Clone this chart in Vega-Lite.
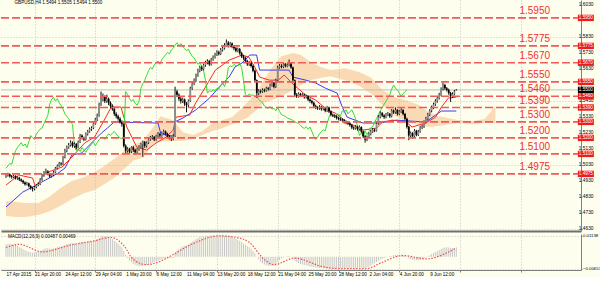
{
"$schema": "https://vega.github.io/schema/vega-lite/v6.json",
"background": "#FEFEEE",
"padding": 0,
"spacing": 2,
"config": {"view": {"stroke": null}, "font": "Liberation Sans", "axis": {"labelOverlap": false}},
"datasets": {
"bars": [
{"i":0,"o":1.4958,"h":1.4975,"l":1.4950,"c":1.4965,"m":0.0066,"ch":1.5010},
{"i":1,"o":1.4965,"h":1.4982,"l":1.4958,"c":1.4972,"m":0.0068,"ch":1.5025},
{"i":2,"o":1.4972,"h":1.4978,"l":1.4952,"c":1.4960,"m":0.0069,"ch":1.5040},
{"i":3,"o":1.4960,"h":1.4968,"l":1.4945,"c":1.4955,"m":0.0068,"ch":1.5035},
{"i":4,"o":1.4955,"h":1.4970,"l":1.4948,"c":1.4962,"m":0.0066,"ch":1.5080},
{"i":5,"o":1.4962,"h":1.4966,"l":1.4940,"c":1.4948,"m":0.0063,"ch":1.5120},
{"i":6,"o":1.4948,"h":1.4960,"l":1.4938,"c":1.4951,"m":0.0058,"ch":1.5140},
{"i":7,"o":1.4951,"h":1.4957,"l":1.4930,"c":1.4940,"m":0.0052,"ch":1.5155},
{"i":8,"o":1.4940,"h":1.4946,"l":1.4924,"c":1.4932,"m":0.0046,"ch":1.5170},
{"i":9,"o":1.4932,"h":1.4938,"l":1.4912,"c":1.4921,"m":0.0040,"ch":1.5150},
{"i":10,"o":1.4921,"h":1.4928,"l":1.4902,"c":1.4910,"m":0.0035,"ch":1.5162},
{"i":11,"o":1.4910,"h":1.4925,"l":1.4903,"c":1.4916,"m":0.0031,"ch":1.5140},
{"i":12,"o":1.4916,"h":1.4920,"l":1.4890,"c":1.4898,"m":0.0027,"ch":1.5175},
{"i":13,"o":1.4898,"h":1.4905,"l":1.4876,"c":1.4887,"m":0.0024,"ch":1.5215},
{"i":14,"o":1.4887,"h":1.4894,"l":1.4865,"c":1.4882,"m":0.0022,"ch":1.5200},
{"i":15,"o":1.4882,"h":1.4900,"l":1.4872,"c":1.4893,"m":0.0022,"ch":1.5190},
{"i":16,"o":1.4893,"h":1.4912,"l":1.4885,"c":1.4905,"m":0.0023,"ch":1.5225},
{"i":17,"o":1.4905,"h":1.4922,"l":1.4898,"c":1.4912,"m":0.0026,"ch":1.5240},
{"i":18,"o":1.4912,"h":1.4948,"l":1.4905,"c":1.4940,"m":0.0030,"ch":1.5255},
{"i":19,"o":1.4940,"h":1.4975,"l":1.4932,"c":1.4965,"m":0.0036,"ch":1.5262},
{"i":20,"o":1.4965,"h":1.4992,"l":1.4958,"c":1.4982,"m":0.0042,"ch":1.5290},
{"i":21,"o":1.4982,"h":1.5008,"l":1.4975,"c":1.4990,"m":0.0045,"ch":1.5315},
{"i":22,"o":1.4990,"h":1.4998,"l":1.4966,"c":1.4975,"m":0.0045,"ch":1.5340},
{"i":23,"o":1.4975,"h":1.4982,"l":1.4950,"c":1.4960,"m":0.0043,"ch":1.5410},
{"i":24,"o":1.4960,"h":1.4976,"l":1.4952,"c":1.4968,"m":0.0043,"ch":1.5440},
{"i":25,"o":1.4968,"h":1.4994,"l":1.4960,"c":1.4985,"m":0.0045,"ch":1.5455},
{"i":26,"o":1.4985,"h":1.5018,"l":1.4978,"c":1.5010,"m":0.0048,"ch":1.5430},
{"i":27,"o":1.5010,"h":1.5034,"l":1.5002,"c":1.5025,"m":0.0051,"ch":1.5445},
{"i":28,"o":1.5025,"h":1.5050,"l":1.5018,"c":1.5040,"m":0.0054,"ch":1.5420},
{"i":29,"o":1.5040,"h":1.5048,"l":1.5026,"c":1.5035,"m":0.0055,"ch":1.5400},
{"i":30,"o":1.5035,"h":1.5088,"l":1.5030,"c":1.5080,"m":0.0058,"ch":1.5380},
{"i":31,"o":1.5080,"h":1.5132,"l":1.5072,"c":1.5120,"m":0.0063,"ch":1.5350},
{"i":32,"o":1.5120,"h":1.5152,"l":1.5110,"c":1.5140,"m":0.0067,"ch":1.5335},
{"i":33,"o":1.5140,"h":1.5168,"l":1.5132,"c":1.5155,"m":0.0070,"ch":1.5320},
{"i":34,"o":1.5155,"h":1.5185,"l":1.5146,"c":1.5170,"m":0.0073,"ch":1.5300},
{"i":35,"o":1.5170,"h":1.5178,"l":1.5140,"c":1.5150,"m":0.0072,"ch":1.5285},
{"i":36,"o":1.5150,"h":1.5172,"l":1.5138,"c":1.5162,"m":0.0072,"ch":1.5150},
{"i":37,"o":1.5162,"h":1.5168,"l":1.5128,"c":1.5140,"m":0.0070,"ch":1.5120},
{"i":38,"o":1.5140,"h":1.5184,"l":1.5134,"c":1.5175,"m":0.0072,"ch":1.5130},
{"i":39,"o":1.5175,"h":1.5225,"l":1.5168,"c":1.5215,"m":0.0076,"ch":1.5115},
{"i":40,"o":1.5215,"h":1.5222,"l":1.5190,"c":1.5200,"m":0.0077,"ch":1.5140},
{"i":41,"o":1.5200,"h":1.5208,"l":1.5180,"c":1.5190,"m":0.0076,"ch":1.5125},
{"i":42,"o":1.5190,"h":1.5234,"l":1.5184,"c":1.5225,"m":0.0078,"ch":1.5110},
{"i":43,"o":1.5225,"h":1.5250,"l":1.5215,"c":1.5240,"m":0.0080,"ch":1.5130},
{"i":44,"o":1.5240,"h":1.5266,"l":1.5232,"c":1.5255,"m":0.0082,"ch":1.5145},
{"i":45,"o":1.5255,"h":1.5272,"l":1.5244,"c":1.5262,"m":0.0083,"ch":1.5160},
{"i":46,"o":1.5262,"h":1.5298,"l":1.5255,"c":1.5290,"m":0.0086,"ch":1.5175},
{"i":47,"o":1.5290,"h":1.5325,"l":1.5282,"c":1.5315,"m":0.0090,"ch":1.5150},
{"i":48,"o":1.5315,"h":1.5352,"l":1.5305,"c":1.5340,"m":0.0094,"ch":1.5170},
{"i":49,"o":1.5340,"h":1.5420,"l":1.5332,"c":1.5410,"m":0.0101,"ch":1.5190},
{"i":50,"o":1.5410,"h":1.5490,"l":1.5400,"c":1.5440,"m":0.0107,"ch":1.5200},
{"i":51,"o":1.5440,"h":1.5478,"l":1.5428,"c":1.5455,"m":0.0111,"ch":1.5205},
{"i":52,"o":1.5455,"h":1.5465,"l":1.5418,"c":1.5430,"m":0.0110,"ch":1.5190},
{"i":53,"o":1.5430,"h":1.5470,"l":1.5420,"c":1.5445,"m":0.0109,"ch":1.5210},
{"i":54,"o":1.5445,"h":1.5452,"l":1.5405,"c":1.5420,"m":0.0105,"ch":1.5225},
{"i":55,"o":1.5420,"h":1.5428,"l":1.5388,"c":1.5400,"m":0.0100,"ch":1.5215},
{"i":56,"o":1.5400,"h":1.5410,"l":1.5370,"c":1.5380,"m":0.0094,"ch":1.5230},
{"i":57,"o":1.5380,"h":1.5388,"l":1.5338,"c":1.5350,"m":0.0086,"ch":1.5240},
{"i":58,"o":1.5350,"h":1.5360,"l":1.5322,"c":1.5335,"m":0.0078,"ch":1.5225},
{"i":59,"o":1.5335,"h":1.5345,"l":1.5308,"c":1.5320,"m":0.0069,"ch":1.5210},
{"i":60,"o":1.5320,"h":1.5330,"l":1.5290,"c":1.5300,"m":0.0060,"ch":1.5200},
{"i":61,"o":1.5300,"h":1.5310,"l":1.5270,"c":1.5285,"m":0.0051,"ch":1.5195},
{"i":62,"o":1.5285,"h":1.5292,"l":1.5140,"c":1.5150,"m":0.0030,"ch":1.5210},
{"i":63,"o":1.5150,"h":1.5160,"l":1.5105,"c":1.5120,"m":0.0010,"ch":1.5490},
{"i":64,"o":1.5120,"h":1.5142,"l":1.5108,"c":1.5130,"m":-0.0008,"ch":1.5470},
{"i":65,"o":1.5130,"h":1.5138,"l":1.5100,"c":1.5115,"m":-0.0020,"ch":1.5445},
{"i":66,"o":1.5115,"h":1.5148,"l":1.5105,"c":1.5140,"m":-0.0030,"ch":1.5430},
{"i":67,"o":1.5140,"h":1.5150,"l":1.5112,"c":1.5125,"m":-0.0038,"ch":1.5440},
{"i":68,"o":1.5125,"h":1.5132,"l":1.5095,"c":1.5110,"m":-0.0044,"ch":1.5415},
{"i":69,"o":1.5110,"h":1.5138,"l":1.5102,"c":1.5130,"m":-0.0048,"ch":1.5405},
{"i":70,"o":1.5130,"h":1.5155,"l":1.5120,"c":1.5145,"m":-0.0050,"ch":1.5430},
{"i":71,"o":1.5145,"h":1.5170,"l":1.5136,"c":1.5160,"m":-0.0050,"ch":1.5510},
{"i":72,"o":1.5160,"h":1.5182,"l":1.5082,"c":1.5175,"m":-0.0049,"ch":1.5540},
{"i":73,"o":1.5175,"h":1.5180,"l":1.5138,"c":1.5150,"m":-0.0047,"ch":1.5560},
{"i":74,"o":1.5150,"h":1.5178,"l":1.5140,"c":1.5170,"m":-0.0045,"ch":1.5590},
{"i":75,"o":1.5170,"h":1.5200,"l":1.5162,"c":1.5190,"m":-0.0042,"ch":1.5620},
{"i":76,"o":1.5190,"h":1.5212,"l":1.5182,"c":1.5200,"m":-0.0038,"ch":1.5640},
{"i":77,"o":1.5200,"h":1.5218,"l":1.5190,"c":1.5205,"m":-0.0034,"ch":1.5630},
{"i":78,"o":1.5205,"h":1.5212,"l":1.5180,"c":1.5190,"m":-0.0030,"ch":1.5655},
{"i":79,"o":1.5190,"h":1.5220,"l":1.5182,"c":1.5210,"m":-0.0026,"ch":1.5670},
{"i":80,"o":1.5210,"h":1.5236,"l":1.5200,"c":1.5225,"m":-0.0022,"ch":1.5680},
{"i":81,"o":1.5225,"h":1.5232,"l":1.5205,"c":1.5215,"m":-0.0018,"ch":1.5660},
{"i":82,"o":1.5215,"h":1.5240,"l":1.5208,"c":1.5230,"m":-0.0014,"ch":1.5690},
{"i":83,"o":1.5230,"h":1.5252,"l":1.5222,"c":1.5240,"m":-0.0010,"ch":1.5705},
{"i":84,"o":1.5240,"h":1.5246,"l":1.5215,"c":1.5225,"m":-0.0008,"ch":1.5720},
{"i":85,"o":1.5225,"h":1.5232,"l":1.5200,"c":1.5210,"m":-0.0007,"ch":1.5735},
{"i":86,"o":1.5210,"h":1.5218,"l":1.5190,"c":1.5200,"m":-0.0007,"ch":1.5725},
{"i":87,"o":1.5200,"h":1.5208,"l":1.5180,"c":1.5195,"m":-0.0008,"ch":1.5750},
{"i":88,"o":1.5195,"h":1.5222,"l":1.5185,"c":1.5210,"m":-0.0008,"ch":1.5760},
{"i":89,"o":1.5210,"h":1.5520,"l":1.5205,"c":1.5490,"m":0.0015,"ch":1.5780},
{"i":90,"o":1.5490,"h":1.5500,"l":1.5455,"c":1.5470,"m":0.0032,"ch":1.5795},
{"i":91,"o":1.5470,"h":1.5478,"l":1.5432,"c":1.5445,"m":0.0041,"ch":1.5775},
{"i":92,"o":1.5445,"h":1.5455,"l":1.5415,"c":1.5430,"m":0.0049,"ch":1.5790},
{"i":93,"o":1.5430,"h":1.5452,"l":1.5418,"c":1.5440,"m":0.0056,"ch":1.5770},
{"i":94,"o":1.5440,"h":1.5446,"l":1.5400,"c":1.5415,"m":0.0059,"ch":1.5760},
{"i":95,"o":1.5415,"h":1.5425,"l":1.5360,"c":1.5405,"m":0.0061,"ch":1.5745},
{"i":96,"o":1.5405,"h":1.5440,"l":1.5390,"c":1.5430,"m":0.0065,"ch":1.5755},
{"i":97,"o":1.5430,"h":1.5520,"l":1.5425,"c":1.5510,"m":0.0073,"ch":1.5730},
{"i":98,"o":1.5510,"h":1.5552,"l":1.5500,"c":1.5540,"m":0.0080,"ch":1.5710},
{"i":99,"o":1.5540,"h":1.5572,"l":1.5530,"c":1.5560,"m":0.0087,"ch":1.5700},
{"i":100,"o":1.5560,"h":1.5602,"l":1.5550,"c":1.5590,"m":0.0094,"ch":1.5680},
{"i":101,"o":1.5590,"h":1.5632,"l":1.5582,"c":1.5620,"m":0.0100,"ch":1.5660},
{"i":102,"o":1.5620,"h":1.5652,"l":1.5610,"c":1.5640,"m":0.0104,"ch":1.5670},
{"i":103,"o":1.5640,"h":1.5650,"l":1.5618,"c":1.5630,"m":0.0107,"ch":1.5650},
{"i":104,"o":1.5630,"h":1.5665,"l":1.5622,"c":1.5655,"m":0.0110,"ch":1.5620},
{"i":105,"o":1.5655,"h":1.5682,"l":1.5645,"c":1.5670,"m":0.0112,"ch":1.5560},
{"i":106,"o":1.5670,"h":1.5692,"l":1.5660,"c":1.5680,"m":0.0113,"ch":1.5480},
{"i":107,"o":1.5680,"h":1.5688,"l":1.5650,"c":1.5660,"m":0.0112,"ch":1.5495},
{"i":108,"o":1.5660,"h":1.5700,"l":1.5652,"c":1.5690,"m":0.0113,"ch":1.5490},
{"i":109,"o":1.5690,"h":1.5716,"l":1.5682,"c":1.5705,"m":0.0113,"ch":1.5500},
{"i":110,"o":1.5705,"h":1.5732,"l":1.5696,"c":1.5720,"m":0.0113,"ch":1.5495},
{"i":111,"o":1.5720,"h":1.5748,"l":1.5712,"c":1.5735,"m":0.0114,"ch":1.5510},
{"i":112,"o":1.5735,"h":1.5745,"l":1.5715,"c":1.5725,"m":0.0113,"ch":1.5505},
{"i":113,"o":1.5725,"h":1.5762,"l":1.5718,"c":1.5750,"m":0.0113,"ch":1.5530},
{"i":114,"o":1.5750,"h":1.5772,"l":1.5740,"c":1.5760,"m":0.0112,"ch":1.5545},
{"i":115,"o":1.5760,"h":1.5792,"l":1.5752,"c":1.5780,"m":0.0113,"ch":1.5520},
{"i":116,"o":1.5780,"h":1.5815,"l":1.5772,"c":1.5795,"m":0.0114,"ch":1.5560},
{"i":117,"o":1.5795,"h":1.5805,"l":1.5765,"c":1.5775,"m":0.0111,"ch":1.5640},
{"i":118,"o":1.5775,"h":1.5800,"l":1.5766,"c":1.5790,"m":0.0109,"ch":1.5650},
{"i":119,"o":1.5790,"h":1.5796,"l":1.5760,"c":1.5770,"m":0.0105,"ch":1.5645},
{"i":120,"o":1.5770,"h":1.5780,"l":1.5748,"c":1.5760,"m":0.0101,"ch":1.5660},
{"i":121,"o":1.5760,"h":1.5768,"l":1.5735,"c":1.5745,"m":0.0096,"ch":1.5650},
{"i":122,"o":1.5745,"h":1.5765,"l":1.5736,"c":1.5755,"m":0.0091,"ch":1.5655},
{"i":123,"o":1.5755,"h":1.5762,"l":1.5720,"c":1.5730,"m":0.0085,"ch":1.5665},
{"i":124,"o":1.5730,"h":1.5738,"l":1.5700,"c":1.5710,"m":0.0078,"ch":1.5640},
{"i":125,"o":1.5710,"h":1.5720,"l":1.5688,"c":1.5700,"m":0.0071,"ch":1.5560},
{"i":126,"o":1.5700,"h":1.5708,"l":1.5670,"c":1.5680,"m":0.0064,"ch":1.5470},
{"i":127,"o":1.5680,"h":1.5688,"l":1.5650,"c":1.5660,"m":0.0056,"ch":1.5460},
{"i":128,"o":1.5660,"h":1.5680,"l":1.5650,"c":1.5670,"m":0.0050,"ch":1.5475},
{"i":129,"o":1.5670,"h":1.5678,"l":1.5640,"c":1.5650,"m":0.0043,"ch":1.5465},
{"i":130,"o":1.5650,"h":1.5658,"l":1.5610,"c":1.5620,"m":0.0030,"ch":1.5470},
{"i":131,"o":1.5620,"h":1.5628,"l":1.5550,"c":1.5560,"m":0.0018,"ch":1.5455},
{"i":132,"o":1.5560,"h":1.5565,"l":1.5450,"c":1.5480,"m":0.0000,"ch":1.5460},
{"i":133,"o":1.5480,"h":1.5505,"l":1.5468,"c":1.5495,"m":-0.0015,"ch":1.5440},
{"i":134,"o":1.5495,"h":1.5502,"l":1.5478,"c":1.5490,"m":-0.0027,"ch":1.5430},
{"i":135,"o":1.5490,"h":1.5510,"l":1.5482,"c":1.5500,"m":-0.0036,"ch":1.5420},
{"i":136,"o":1.5500,"h":1.5508,"l":1.5485,"c":1.5495,"m":-0.0042,"ch":1.5400},
{"i":137,"o":1.5495,"h":1.5520,"l":1.5488,"c":1.5510,"m":-0.0046,"ch":1.5390},
{"i":138,"o":1.5510,"h":1.5518,"l":1.5495,"c":1.5505,"m":-0.0049,"ch":1.5385},
{"i":139,"o":1.5505,"h":1.5540,"l":1.5498,"c":1.5530,"m":-0.0050,"ch":1.5395},
{"i":140,"o":1.5530,"h":1.5556,"l":1.5520,"c":1.5545,"m":-0.0049,"ch":1.5380},
{"i":141,"o":1.5545,"h":1.5550,"l":1.5510,"c":1.5520,"m":-0.0046,"ch":1.5385},
{"i":142,"o":1.5520,"h":1.5570,"l":1.5512,"c":1.5560,"m":-0.0040,"ch":1.5370},
{"i":143,"o":1.5560,"h":1.5652,"l":1.5555,"c":1.5640,"m":-0.0028,"ch":1.5390},
{"i":144,"o":1.5640,"h":1.5662,"l":1.5632,"c":1.5650,"m":-0.0018,"ch":1.5365},
{"i":145,"o":1.5650,"h":1.5660,"l":1.5635,"c":1.5645,"m":-0.0010,"ch":1.5345},
{"i":146,"o":1.5645,"h":1.5672,"l":1.5636,"c":1.5660,"m":-0.0004,"ch":1.5340},
{"i":147,"o":1.5660,"h":1.5668,"l":1.5640,"c":1.5650,"m":0.0000,"ch":1.5335},
{"i":148,"o":1.5650,"h":1.5666,"l":1.5642,"c":1.5655,"m":0.0002,"ch":1.5325},
{"i":149,"o":1.5655,"h":1.5690,"l":1.5648,"c":1.5665,"m":0.0003,"ch":1.5320},
{"i":150,"o":1.5665,"h":1.5672,"l":1.5632,"c":1.5640,"m":0.0000,"ch":1.5315},
{"i":151,"o":1.5640,"h":1.5646,"l":1.5550,"c":1.5560,"m":-0.0010,"ch":1.5310},
{"i":152,"o":1.5560,"h":1.5565,"l":1.5455,"c":1.5470,"m":-0.0022,"ch":1.5300},
{"i":153,"o":1.5470,"h":1.5480,"l":1.5450,"c":1.5460,"m":-0.0030,"ch":1.5295},
{"i":154,"o":1.5460,"h":1.5485,"l":1.5452,"c":1.5475,"m":-0.0035,"ch":1.5290},
{"i":155,"o":1.5475,"h":1.5482,"l":1.5455,"c":1.5465,"m":-0.0039,"ch":1.5280},
{"i":156,"o":1.5465,"h":1.5480,"l":1.5456,"c":1.5470,"m":-0.0042,"ch":1.5265},
{"i":157,"o":1.5470,"h":1.5476,"l":1.5445,"c":1.5455,"m":-0.0045,"ch":1.5260},
{"i":158,"o":1.5455,"h":1.5470,"l":1.5446,"c":1.5460,"m":-0.0048,"ch":1.5270},
{"i":159,"o":1.5460,"h":1.5466,"l":1.5430,"c":1.5440,"m":-0.0051,"ch":1.5255},
{"i":160,"o":1.5440,"h":1.5448,"l":1.5420,"c":1.5430,"m":-0.0053,"ch":1.5268},
{"i":161,"o":1.5430,"h":1.5438,"l":1.5410,"c":1.5420,"m":-0.0055,"ch":1.5240},
{"i":162,"o":1.5420,"h":1.5426,"l":1.5390,"c":1.5400,"m":-0.0057,"ch":1.5210},
{"i":163,"o":1.5400,"h":1.5408,"l":1.5380,"c":1.5390,"m":-0.0059,"ch":1.5190},
{"i":164,"o":1.5390,"h":1.5398,"l":1.5375,"c":1.5385,"m":-0.0060,"ch":1.5205},
{"i":165,"o":1.5385,"h":1.5405,"l":1.5376,"c":1.5395,"m":-0.0061,"ch":1.5225},
{"i":166,"o":1.5395,"h":1.5400,"l":1.5370,"c":1.5380,"m":-0.0062,"ch":1.5240},
{"i":167,"o":1.5380,"h":1.5395,"l":1.5372,"c":1.5385,"m":-0.0063,"ch":1.5250},
{"i":168,"o":1.5385,"h":1.5390,"l":1.5360,"c":1.5370,"m":-0.0063,"ch":1.5245},
{"i":169,"o":1.5370,"h":1.5400,"l":1.5362,"c":1.5390,"m":-0.0064,"ch":1.5290},
{"i":170,"o":1.5390,"h":1.5395,"l":1.5355,"c":1.5365,"m":-0.0064,"ch":1.5330},
{"i":171,"o":1.5365,"h":1.5372,"l":1.5335,"c":1.5345,"m":-0.0065,"ch":1.5355},
{"i":172,"o":1.5345,"h":1.5352,"l":1.5330,"c":1.5340,"m":-0.0065,"ch":1.5340},
{"i":173,"o":1.5340,"h":1.5348,"l":1.5325,"c":1.5335,"m":-0.0065,"ch":1.5330},
{"i":174,"o":1.5335,"h":1.5342,"l":1.5315,"c":1.5325,"m":-0.0064,"ch":1.5345},
{"i":175,"o":1.5325,"h":1.5332,"l":1.5310,"c":1.5320,"m":-0.0064,"ch":1.5350},
{"i":176,"o":1.5320,"h":1.5328,"l":1.5305,"c":1.5315,"m":-0.0063,"ch":1.5335},
{"i":177,"o":1.5315,"h":1.5322,"l":1.5300,"c":1.5310,"m":-0.0063,"ch":1.5370},
{"i":178,"o":1.5310,"h":1.5318,"l":1.5290,"c":1.5300,"m":-0.0062,"ch":1.5360},
{"i":179,"o":1.5300,"h":1.5308,"l":1.5285,"c":1.5295,"m":-0.0062,"ch":1.5375},
{"i":180,"o":1.5295,"h":1.5302,"l":1.5280,"c":1.5290,"m":-0.0062,"ch":1.5350},
{"i":181,"o":1.5290,"h":1.5298,"l":1.5270,"c":1.5280,"m":-0.0062,"ch":1.5365},
{"i":182,"o":1.5280,"h":1.5286,"l":1.5255,"c":1.5265,"m":-0.0063,"ch":1.5375},
{"i":183,"o":1.5265,"h":1.5272,"l":1.5250,"c":1.5260,"m":-0.0063,"ch":1.5350},
{"i":184,"o":1.5260,"h":1.5280,"l":1.5252,"c":1.5270,"m":-0.0062,"ch":1.5320},
{"i":185,"o":1.5270,"h":1.5276,"l":1.5245,"c":1.5255,"m":-0.0061,"ch":1.5270},
{"i":186,"o":1.5255,"h":1.5278,"l":1.5246,"c":1.5268,"m":-0.0060,"ch":1.5215},
{"i":187,"o":1.5268,"h":1.5272,"l":1.5230,"c":1.5240,"m":-0.0060,"ch":1.5230},
{"i":188,"o":1.5240,"h":1.5246,"l":1.5198,"c":1.5210,"m":-0.0061,"ch":1.5210},
{"i":189,"o":1.5210,"h":1.5218,"l":1.5170,"c":1.5190,"m":-0.0062,"ch":1.5245},
{"i":190,"o":1.5190,"h":1.5215,"l":1.5180,"c":1.5205,"m":-0.0059,"ch":1.5220},
{"i":191,"o":1.5205,"h":1.5235,"l":1.5198,"c":1.5225,"m":-0.0054,"ch":1.5240},
{"i":192,"o":1.5225,"h":1.5250,"l":1.5216,"c":1.5240,"m":-0.0048,"ch":1.5265},
{"i":193,"o":1.5240,"h":1.5262,"l":1.5232,"c":1.5250,"m":-0.0042,"ch":1.5270},
{"i":194,"o":1.5250,"h":1.5258,"l":1.5236,"c":1.5245,"m":-0.0036,"ch":1.5300},
{"i":195,"o":1.5245,"h":1.5300,"l":1.5240,"c":1.5290,"m":-0.0029,"ch":1.5320},
{"i":196,"o":1.5290,"h":1.5342,"l":1.5282,"c":1.5330,"m":-0.0022,"ch":1.5345},
{"i":197,"o":1.5330,"h":1.5366,"l":1.5322,"c":1.5355,"m":-0.0016,"ch":1.5370},
{"i":198,"o":1.5355,"h":1.5362,"l":1.5330,"c":1.5340,"m":-0.0011,"ch":1.5390},
{"i":199,"o":1.5340,"h":1.5348,"l":1.5318,"c":1.5330,"m":-0.0007,"ch":1.5410},
{"i":200,"o":1.5330,"h":1.5356,"l":1.5322,"c":1.5345,"m":-0.0003,"ch":1.5430},
{"i":201,"o":1.5345,"h":1.5362,"l":1.5336,"c":1.5350,"m":0.0000,"ch":1.5450},
{"i":202,"o":1.5350,"h":1.5356,"l":1.5325,"c":1.5335,"m":0.0003,"ch":1.5470},
{"i":203,"o":1.5335,"h":1.5380,"l":1.5328,"c":1.5370,"m":0.0005,"ch":1.5505},
{"i":204,"o":1.5370,"h":1.5378,"l":1.5350,"c":1.5360,"m":0.0007,"ch":1.5530},
{"i":205,"o":1.5360,"h":1.5390,"l":1.5352,"c":1.5375,"m":0.0009,"ch":1.5510},
{"i":206,"o":1.5375,"h":1.5380,"l":1.5340,"c":1.5350,"m":0.0010,"ch":1.5500},
{"i":207,"o":1.5350,"h":1.5375,"l":1.5342,"c":1.5365,"m":0.0010,"ch":1.5480},
{"i":208,"o":1.5365,"h":1.5386,"l":1.5356,"c":1.5375,"m":0.0010,"ch":1.5460},
{"i":209,"o":1.5375,"h":1.5380,"l":1.5340,"c":1.5350,"m":0.0008,"ch":1.5475},
{"i":210,"o":1.5350,"h":1.5356,"l":1.5310,"c":1.5320,"m":0.0004,"ch":1.5490},
{"i":211,"o":1.5320,"h":1.5326,"l":1.5258,"c":1.5270,"m":-0.0003,"ch":1.5500},
{"i":212,"o":1.5270,"h":1.5276,"l":1.5185,"c":1.5215,"m":-0.0010},
{"i":213,"o":1.5215,"h":1.5240,"l":1.5205,"c":1.5230,"m":-0.0015},
{"i":214,"o":1.5230,"h":1.5236,"l":1.5195,"c":1.5210,"m":-0.0018},
{"i":215,"o":1.5210,"h":1.5255,"l":1.5202,"c":1.5245,"m":-0.0019},
{"i":216,"o":1.5245,"h":1.5250,"l":1.5210,"c":1.5220,"m":-0.0020},
{"i":217,"o":1.5220,"h":1.5250,"l":1.5212,"c":1.5240,"m":-0.0019},
{"i":218,"o":1.5240,"h":1.5275,"l":1.5232,"c":1.5265,"m":-0.0017},
{"i":219,"o":1.5265,"h":1.5282,"l":1.5255,"c":1.5270,"m":-0.0014},
{"i":220,"o":1.5270,"h":1.5310,"l":1.5262,"c":1.5300,"m":-0.0009},
{"i":221,"o":1.5300,"h":1.5332,"l":1.5290,"c":1.5320,"m":-0.0004},
{"i":222,"o":1.5320,"h":1.5356,"l":1.5312,"c":1.5345,"m":0.0002},
{"i":223,"o":1.5345,"h":1.5380,"l":1.5336,"c":1.5370,"m":0.0008},
{"i":224,"o":1.5370,"h":1.5402,"l":1.5360,"c":1.5390,"m":0.0014},
{"i":225,"o":1.5390,"h":1.5420,"l":1.5380,"c":1.5410,"m":0.0020},
{"i":226,"o":1.5410,"h":1.5442,"l":1.5400,"c":1.5430,"m":0.0026},
{"i":227,"o":1.5430,"h":1.5462,"l":1.5420,"c":1.5450,"m":0.0031},
{"i":228,"o":1.5450,"h":1.5482,"l":1.5440,"c":1.5470,"m":0.0036},
{"i":229,"o":1.5470,"h":1.5516,"l":1.5462,"c":1.5505,"m":0.0041},
{"i":230,"o":1.5505,"h":1.5545,"l":1.5496,"c":1.5530,"m":0.0046},
{"i":231,"o":1.5530,"h":1.5538,"l":1.5500,"c":1.5510,"m":0.0049},
{"i":232,"o":1.5510,"h":1.5518,"l":1.5490,"c":1.5500,"m":0.0050},
{"i":233,"o":1.5500,"h":1.5508,"l":1.5470,"c":1.5480,"m":0.0049},
{"i":234,"o":1.5480,"h":1.5488,"l":1.5425,"c":1.5460,"m":0.0047},
{"i":235,"o":1.5460,"h":1.5485,"l":1.5450,"c":1.5475,"m":0.0046},
{"i":236,"o":1.5475,"h":1.5500,"l":1.5466,"c":1.5490,"m":0.0047},
{"i":237,"o":1.5494,"h":1.5505,"l":1.5494,"c":1.5500,"m":0.0049}
],
"tk": [
{"i":0,"v":1.4905},{"i":6.7,"v":1.4968},{"i":14,"v":1.4949},{"i":15.5,"v":1.4893},{"i":20.7,"v":1.4980},{"i":29.5,"v":1.5018},{"i":34.7,"v":1.5080},{"i":41.4,"v":1.5168},{"i":46.6,"v":1.5205},{"i":51.7,"v":1.5311},{"i":55.4,"v":1.5393},{"i":60.5,"v":1.5393},{"i":62,"v":1.5330},{"i":63.6,"v":1.5268},{"i":68.8,"v":1.5143},{"i":74,"v":1.5124},{"i":79,"v":1.5168},{"i":84.3,"v":1.5205},{"i":88,"v":1.5249},{"i":89.5,"v":1.5330},{"i":96.7,"v":1.5343},{"i":99.8,"v":1.5418},{"i":105,"v":1.5518},{"i":110.2,"v":1.5624},{"i":117.4,"v":1.5686},{"i":124.2,"v":1.5718},{"i":127.8,"v":1.5705},{"i":130.9,"v":1.5643},{"i":133.5,"v":1.5580},{"i":138.6,"v":1.5561},{"i":143.3,"v":1.5561},{"i":146.4,"v":1.5593},{"i":151.6,"v":1.5530},{"i":157.8,"v":1.5468},{"i":163,"v":1.5436},{"i":169.2,"v":1.5374},{"i":173.3,"v":1.5355},{"i":179.5,"v":1.5299},{"i":187.8,"v":1.5249},{"i":195,"v":1.5261},{"i":198.1,"v":1.5299},{"i":203.3,"v":1.5311},{"i":210.6,"v":1.5299},{"i":213.7,"v":1.5268},{"i":220.9,"v":1.5293},{"i":226.1,"v":1.5330},{"i":229.2,"v":1.5393},{"i":232.8,"v":1.5449},{"i":237,"v":1.5455}
],
"kj": [
{"i":0,"v":1.4768},{"i":8.8,"v":1.4861},{"i":14,"v":1.4893},{"i":20.7,"v":1.4936},{"i":27.4,"v":1.4980},{"i":31,"v":1.5011},{"i":34.7,"v":1.5093},{"i":39.8,"v":1.5105},{"i":45,"v":1.5168},{"i":50.2,"v":1.5230},{"i":53.3,"v":1.5261},{"i":56.9,"v":1.5299},{"i":80,"v":1.5293},{"i":81.5,"v":1.5225},{"i":88.3,"v":1.5210},{"i":89,"v":1.5301},{"i":93.1,"v":1.5324},{"i":99.8,"v":1.5374},{"i":107.1,"v":1.5449},{"i":112.3,"v":1.5518},{"i":117.4,"v":1.5580},{"i":120.5,"v":1.5643},{"i":124.2,"v":1.5668},{"i":128.3,"v":1.5718},{"i":131.9,"v":1.5718},{"i":133.5,"v":1.5624},{"i":149,"v":1.5624},{"i":151,"v":1.5580},{"i":157.8,"v":1.5561},{"i":163,"v":1.5543},{"i":168.1,"v":1.5511},{"i":174.3,"v":1.5480},{"i":177,"v":1.5393},{"i":179.5,"v":1.5330},{"i":187.8,"v":1.5293},{"i":196.6,"v":1.5293},{"i":205.4,"v":1.5311},{"i":220.9,"v":1.5299},{"i":226.1,"v":1.5343},{"i":229.2,"v":1.5368},{"i":237,"v":1.5368}
],
"cloud": [
{"i":0,"a":1.4805,"b":1.4711},{"i":5.2,"a":1.4799,"b":1.4705},{"i":10.3,"a":1.4793,"b":1.4705},{"i":17.1,"a":1.4793,"b":1.4718},{"i":23.3,"a":1.4836,"b":1.4743},{"i":28.5,"a":1.4886,"b":1.4774},{"i":34.7,"a":1.4930,"b":1.4818},{"i":41.4,"a":1.4955,"b":1.4855},{"i":46.6,"a":1.4986,"b":1.4874},{"i":51.7,"a":1.5024,"b":1.4911},{"i":56.9,"a":1.5068,"b":1.4949},{"i":62.1,"a":1.5118,"b":1.5005},{"i":67.3,"a":1.5155,"b":1.5061},{"i":72.4,"a":1.5187,"b":1.5078},{"i":77.6,"a":1.5270,"b":1.5165},{"i":81.2,"a":1.5336,"b":1.5178},{"i":87.9,"a":1.5310,"b":1.5180},{"i":93.1,"a":1.5236,"b":1.5182},{"i":98.3,"a":1.5218,"b":1.5193},{"i":103.5,"a":1.5243,"b":1.5218},{"i":108.6,"a":1.5293,"b":1.5243},{"i":113.8,"a":1.5311,"b":1.5261},{"i":119,"a":1.5330,"b":1.5286},{"i":124.2,"a":1.5386,"b":1.5311},{"i":126.7,"a":1.5418,"b":1.5324},{"i":131.9,"a":1.5480,"b":1.5374},{"i":135.5,"a":1.5561,"b":1.5418},{"i":139.7,"a":1.5636,"b":1.5436},{"i":144.9,"a":1.5711,"b":1.5461},{"i":151.1,"a":1.5730,"b":1.5499},{"i":155.2,"a":1.5718,"b":1.5530},{"i":160.4,"a":1.5674,"b":1.5561},{"i":165.5,"a":1.5643,"b":1.5574},{"i":170.7,"a":1.5624,"b":1.5586},{"i":178.5,"a":1.5636,"b":1.5561},{"i":186.2,"a":1.5611,"b":1.5524},{"i":192.4,"a":1.5574,"b":1.5474},{"i":198.1,"a":1.5499,"b":1.5405},{"i":204.3,"a":1.5455,"b":1.5343},{"i":210.6,"a":1.5436,"b":1.5299},{"i":217.3,"a":1.5405,"b":1.5280},{"i":222.5,"a":1.5361,"b":1.5268},{"i":227.6,"a":1.5336,"b":1.5274},{"i":232.8,"a":1.5324,"b":1.5286},{"i":238,"a":1.5311,"b":1.5293},{"i":245.7,"a":1.5305,"b":1.5286},{"i":251.9,"a":1.5318,"b":1.5293},{"i":257.6,"a":1.5399,"b":1.5293}
],
"sig": [
{"i":0,"v":0.0049},{"i":7,"v":0.0066},{"i":19,"v":0.0026},{"i":34,"v":0.0062},{"i":47,"v":0.0086},{"i":55,"v":0.0104},{"i":62,"v":0.0060},{"i":67,"v":-0.0015},{"i":74,"v":-0.0043},{"i":81,"v":-0.0026},{"i":86,"v":0.0000},{"i":100,"v":0.0077},{"i":112,"v":0.0112},{"i":121,"v":0.0104},{"i":128,"v":0.0077},{"i":136,"v":-0.0016},{"i":141,"v":-0.0043},{"i":152,"v":-0.0008},{"i":166,"v":-0.0052},{"i":172,"v":-0.0063},{"i":181,"v":-0.0065},{"i":190,"v":-0.0064},{"i":197,"v":-0.0035},{"i":209,"v":0.0006},{"i":221,"v":-0.0012},{"i":237,"v":0.0047}
],
"lev": [
{"p":1.5950,"t":"1.5950"},{"p":1.5775,"t":"1.5775"},{"p":1.5670,"t":"1.5670"},{"p":1.5550,"t":"1.5550"},{"p":1.5460,"t":"1.5460"},{"p":1.5390,"t":"1.5390"},{"p":1.5300,"t":"1.5300"},{"p":1.5200,"t":"1.5200"},{"p":1.5100,"t":"1.5100"},{"p":1.4975,"t":"1.4975"}
],
"cur": [{"p":1.5500,"t":"1.5500"}],
"yl": [
{"p":1.603,"t":"1.6030"},{"p":1.583,"t":"1.5830"},{"p":1.573,"t":"1.5730"},{"p":1.563,"t":"1.5630"},{"p":1.543,"t":"1.5430"},{"p":1.533,"t":"1.5330"},{"p":1.523,"t":"1.5230"},{"p":1.513,"t":"1.5130"},{"p":1.503,"t":"1.5030"},{"p":1.493,"t":"1.4930"},{"p":1.483,"t":"1.4830"},{"p":1.473,"t":"1.4730"},{"p":1.463,"t":"1.4630"}
],
"xl": [
{"i":0,"t":"17 Apr 2015"},{"i":15,"t":"21 Apr 20:00"},{"i":31,"t":"24 Apr 12:00"},{"i":47,"t":"29 Apr 04:00"},{"i":63,"t":"1 May 20:00"},{"i":79,"t":"6 May 12:00"},{"i":95,"t":"11 May 04:00"},{"i":111,"t":"13 May 20:00"},{"i":127,"t":"18 May 12:00"},{"i":143,"t":"21 May 04:00"},{"i":159,"t":"25 May 20:00"},{"i":175,"t":"28 May 12:00"},{"i":191,"t":"2 Jun 04:00"},{"i":207,"t":"4 Jun 20:00"},{"i":223,"t":"9 Jun 12:00"}
]
},
"vconcat": [
{
"width": 580, "height": 231,
"layer": [
{"data": {"name": "cloud"},
 "mark": {"type": "area", "fill": "#F4A460", "opacity": 0.4, "clip": true},
 "encoding": {
  "x": {"field": "i", "type": "quantitative", "title": null, "scale": {"domain": [0, 300], "nice": false, "zero": false},
        "axis": {"values": [15,31,47,63,79,95,111,127,143,159,175,191,207,223,239,255,271,287], "labels": false, "ticks": false, "grid": true, "gridColor": "#C4C4C4", "gridDash": [1,2], "domainColor": "#6E6E6E", "domainWidth": 2}},
  "y": {"field": "a", "type": "quantitative", "title": null, "scale": {"domain": [1.4618, 1.6062], "nice": false, "zero": false},
        "axis": {"orient": "right", "values": [1.463,1.473,1.483,1.493,1.503,1.513,1.523,1.533,1.543,1.553,1.563,1.573,1.583,1.593,1.603], "labels": false, "tickSize": 1, "tickColor": "#808080", "domainColor": "#808080", "grid": true, "gridColor": "#C4C4C4", "gridDash": [1,2]}},
  "y2": {"field": "b"}
 }},
{"data": {"name": "cur"},
 "mark": {"type": "rule", "color": "#BDBDBD", "strokeWidth": 1},
 "encoding": {"y": {"field": "p", "type": "quantitative", "title": null, "scale": {"domain": [1.4618, 1.6062], "nice": false, "zero": false}}}},
{"data": {"name": "kj"},
 "mark": {"type": "line", "color": "#3A3AF5", "strokeWidth": 1, "clip": true},
 "encoding": {"x": {"field": "i", "type": "quantitative", "title": null, "scale": {"domain": [0, 300]}}, "y": {"field": "v", "type": "quantitative", "title": null, "scale": {"domain": [1.4618, 1.6062]}}}},
{"data": {"name": "tk"},
 "mark": {"type": "line", "color": "#F22B2B", "strokeWidth": 1, "clip": true},
 "encoding": {"x": {"field": "i", "type": "quantitative", "title": null, "scale": {"domain": [0, 300]}}, "y": {"field": "v", "type": "quantitative", "title": null, "scale": {"domain": [1.4618, 1.6062]}}}},
{"data": {"name": "bars"},
 "mark": {"type": "line", "color": "#33DD33", "strokeWidth": 1, "clip": true},
 "encoding": {"x": {"field": "i", "type": "quantitative", "title": null, "scale": {"domain": [0, 300]}}, "y": {"field": "ch", "type": "quantitative", "title": null, "scale": {"domain": [1.4618, 1.6062]}}}},
{"data": {"name": "bars"},
 "mark": {"type": "rule", "color": "#111111", "strokeWidth": 1, "clip": true},
 "encoding": {"x": {"field": "i", "type": "quantitative", "title": null, "scale": {"domain": [0, 300]}}, "y": {"field": "l", "type": "quantitative", "title": null, "scale": {"domain": [1.4618, 1.6062]}}, "y2": {"field": "h"}}},
{"data": {"name": "bars"},
 "mark": {"type": "bar", "size": 1.8, "clip": true},
 "encoding": {"x": {"field": "i", "type": "quantitative", "title": null, "scale": {"domain": [0, 300]}}, "y": {"field": "o", "type": "quantitative", "title": null, "scale": {"domain": [1.4618, 1.6062]}}, "y2": {"field": "c"},
  "color": {"condition": {"test": "datum.c >= datum.o", "value": "#8C8C8C"}, "value": "#000000"}}},
{"data": {"name": "lev"},
 "mark": {"type": "rule", "color": "#F25A5A", "strokeWidth": 1.6, "strokeDash": [8,3]},
 "encoding": {"y": {"field": "p", "type": "quantitative", "title": null, "scale": {"domain": [1.4618, 1.6062]}}}},
{"data": {"name": "lev"},
 "mark": {"type": "text", "color": "#F23030", "fontSize": 10, "align": "center", "baseline": "bottom", "dy": -2},
 "encoding": {"x": {"datum": 278.3, "type": "quantitative", "scale": {"domain": [0, 300]}}, "y": {"field": "p", "type": "quantitative", "title": null, "scale": {"domain": [1.4618, 1.6062]}}, "text": {"field": "t"}}},
{"data": {"name": "yl"},
 "mark": {"type": "text", "color": "#000000", "fontSize": 4.8, "align": "left", "baseline": "middle"},
 "encoding": {"x": {"datum": 301.5, "type": "quantitative", "scale": {"domain": [0, 300]}}, "y": {"field": "p", "type": "quantitative", "title": null, "scale": {"domain": [1.4618, 1.6062]}}, "text": {"field": "t"}}},
{"data": {"name": "lev"},
 "mark": {"type": "point", "shape": "M-1,-0.4H1V0.4H-1Z", "size": 256, "filled": true, "fill": "#EE1C1C", "opacity": 1, "strokeWidth": 0},
 "encoding": {"x": {"datum": 305.2, "type": "quantitative", "scale": {"domain": [0, 300]}}, "y": {"field": "p", "type": "quantitative", "title": null, "scale": {"domain": [1.4618, 1.6062]}}}},
{"data": {"name": "lev"},
 "mark": {"type": "text", "color": "#FFFFFF", "fontSize": 4.6, "align": "center", "baseline": "middle"},
 "encoding": {"x": {"datum": 305.2, "type": "quantitative", "scale": {"domain": [0, 300]}}, "y": {"field": "p", "type": "quantitative", "title": null, "scale": {"domain": [1.4618, 1.6062]}}, "text": {"field": "t"}}},
{"data": {"name": "cur"},
 "mark": {"type": "point", "shape": "M-1,-0.4H1V0.4H-1Z", "size": 256, "filled": true, "fill": "#000000", "opacity": 1, "strokeWidth": 0},
 "encoding": {"x": {"datum": 305.2, "type": "quantitative", "scale": {"domain": [0, 300]}}, "y": {"field": "p", "type": "quantitative", "title": null, "scale": {"domain": [1.4618, 1.6062]}}}},
{"data": {"name": "cur"},
 "mark": {"type": "text", "color": "#FFFFFF", "fontSize": 4.6, "align": "center", "baseline": "middle"},
 "encoding": {"x": {"datum": 305.2, "type": "quantitative", "scale": {"domain": [0, 300]}}, "y": {"field": "p", "type": "quantitative", "title": null, "scale": {"domain": [1.4618, 1.6062]}}, "text": {"field": "t"}}},
{"data": {"values": [{"t": "GBPUSD,H4  1.5494 1.5505 1.5494 1.5500"}]},
 "mark": {"type": "text", "color": "#000000", "fontSize": 4.6, "align": "left", "baseline": "top"},
 "encoding": {"x": {"datum": 4.5, "type": "quantitative", "scale": {"domain": [0, 300]}}, "y": {"datum": 1.6060, "type": "quantitative", "scale": {"domain": [1.4618, 1.6062]}}, "text": {"field": "t"}}}
]
},
{
"width": 580, "height": 36,
"layer": [
{"data": {"name": "bars"},
 "mark": {"type": "bar", "size": 1, "color": "#C8C8C8", "clip": true},
 "encoding": {
  "x": {"field": "i", "type": "quantitative", "title": null, "scale": {"domain": [0, 300], "nice": false, "zero": false},
        "axis": {"values": [15,31,47,63,79,95,111,127,143,159,175,191,207,223,239,255,271,287], "labels": false,
                 "tickSize": 2, "tickColor": "#808080", "domainColor": "#808080", "grid": true, "gridColor": "#C4C4C4", "gridDash": [1,2]}},
  "y": {"field": "m", "type": "quantitative", "title": null, "scale": {"domain": [-0.0072, 0.0122], "nice": false, "zero": false},
        "axis": {"orient": "right", "values": [-0.00653, 0, 0.01138], "labelExpr": "datum.value == 0 ? '0.00' : format(datum.value, '.5f')", "labelOverlap": false, "labelFontSize": 4.3, "labelColor": "#000000", "tickSize": 1, "tickColor": "#808080", "labelPadding": 0.5, "domainColor": "#808080", "grid": true, "gridColor": "#C4C4C4", "gridDash": [1,2]}},
  "y2": {"datum": 0}
 }},
{"data": {"name": "sig"},
 "mark": {"type": "line", "color": "#F05050", "strokeWidth": 1.2, "strokeDash": [1.5,1.5], "interpolate": "monotone", "clip": true},
 "encoding": {"x": {"field": "i", "type": "quantitative", "title": null, "scale": {"domain": [0, 300]}}, "y": {"field": "v", "type": "quantitative", "title": null, "scale": {"domain": [-0.0072, 0.0122]}}}},
{"data": {"values": [{"t": "MACD(12,26,9) 0.00487 0.00469"}]},
 "mark": {"type": "text", "color": "#000000", "fontSize": 4.6, "align": "left", "baseline": "top"},
 "encoding": {"x": {"datum": 1, "type": "quantitative", "scale": {"domain": [0, 300]}}, "y": {"datum": 0.0120, "type": "quantitative", "scale": {"domain": [-0.0072, 0.0122]}}, "text": {"field": "t"}}},
{"data": {"name": "xl"},
 "mark": {"type": "text", "color": "#000000", "fontSize": 4.6, "align": "left", "baseline": "top", "dx": 0.5},
 "encoding": {"x": {"field": "i", "type": "quantitative", "title": null, "scale": {"domain": [0, 300]}}, "y": {"datum": -0.0083, "type": "quantitative", "scale": {"domain": [-0.0072, 0.0122]}}, "text": {"field": "t"}}}
]
}
]
}
